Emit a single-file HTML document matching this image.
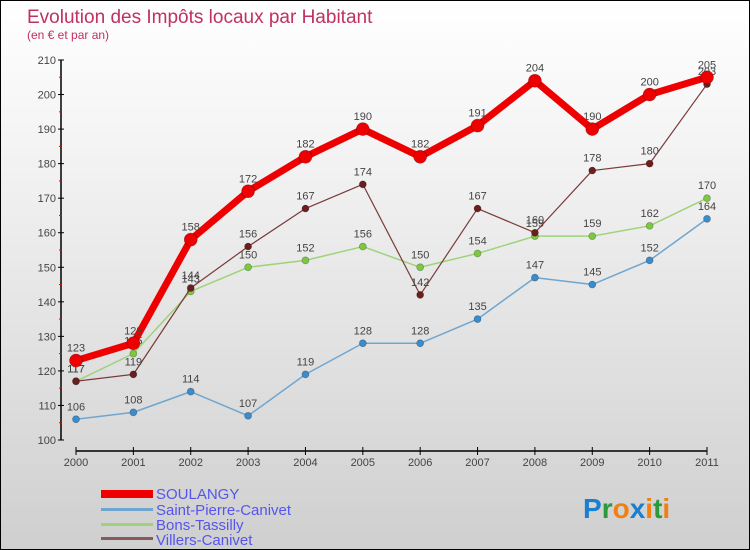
<!DOCTYPE html>
<html><head><meta charset="utf-8"><style>
body{margin:0}
#wrap{position:relative;width:748px;height:548px;border:1px solid #000;background:linear-gradient(#fff,#f2f2f2 30%,#cfcfcf);font-family:"Liberation Sans",sans-serif;overflow:hidden}
text{font-family:"Liberation Sans",sans-serif}
</style></head><body>
<div id="wrap">
<svg id="svg" width="748" height="548">
<text x="26" y="22" font-size="19" fill="#c0315e">Evolution des Impôts locaux par Habitant</text>
<text x="26" y="38" font-size="12" fill="#c0315e">(en € et par an)</text>
<g id="axes"></g><g id="series"></g>
<g>
<rect x="100" y="489" width="52" height="8" fill="#e00"/>
<text x="155" y="498" font-size="15" fill="#55e">SOULANGY</text>
<rect x="100" y="507" width="52" height="3" fill="#6fa6d0"/>
<text x="155" y="514" font-size="15" fill="#55e">Saint-Pierre-Canivet</text>
<rect x="100" y="522" width="52" height="3" fill="#9ed37a"/>
<text x="155" y="529" font-size="15" fill="#55e">Bons-Tassilly</text>
<rect x="100" y="536" width="52" height="3" fill="#8a5a5a"/>
<text x="155" y="544" font-size="15" fill="#55e">Villers-Canivet</text>
</g>
<text x="582" y="517" font-size="28" font-weight="bold"><tspan fill="#1a7fd0">P</tspan><tspan fill="#2a9a3a">r</tspan><tspan fill="#f08010">o</tspan><tspan fill="#1a7fd0">x</tspan><tspan fill="#f08010">i</tspan><tspan fill="#2a9a3a">t</tspan><tspan fill="#f08010">i</tspan></text>
</svg></div>
<script>
const years=[2000,2001,2002,2003,2004,2005,2006,2007,2008,2009,2010,2011];
const yTicks=[100,110,120,130,140,150,160,170,180,190,200,210];
const soulangy=[123,128,158,172,182,190,182,191,204,190,200,205];
const saintPierre=[106,108,114,107,119,128,128,135,147,145,152,164];
const bonsTassilly=[117,125,143,150,152,156,150,154,159,159,162,170];
const villers=[117,119,144,156,167,174,142,167,160,178,180,203];
const NS="http://www.w3.org/2000/svg";
const X=i=>75+i*(631/11);
const Y=v=>439-(v-100)*(380/110);
function mk(t,a,p){const e=document.createElementNS(NS,t);for(const k in a)e.setAttribute(k,a[k]);p.appendChild(e);return e;}
const ax=document.getElementById('axes');
let l=mk('line',{x1:60,y1:Y(210),x2:60,y2:Y(100),stroke:'#000','stroke-width':1.5},ax);


l=mk('line',{x1:X(0),y1:450,x2:X(11),y2:450,stroke:'#000','stroke-width':1.5},ax);


yTicks.forEach((v,i)=>{
 mk('line',{x1:57,y1:Y(v),x2:63,y2:Y(v),stroke:'#000'},ax);
 if(i<yTicks.length-1)mk('line',{x1:58,y1:Y(v+5),x2:61,y2:Y(v+5),stroke:'#e00'},ax);
 const t=mk('text',{x:55,y:Y(v)+4,'font-size':11,fill:'#444','text-anchor':'end'},ax);t.textContent=v;
 
 
});
years.forEach((yr,i)=>{
 mk('line',{x1:X(i),y1:446,x2:X(i),y2:454,stroke:'#000'},ax);
 const t=mk('text',{x:X(i),y:465,'font-size':11,fill:'#444','text-anchor':'middle'},ax);t.textContent=yr;
 
 
});
const sg=document.getElementById('series');
function draw(data,color,dot,w,r,name){
 const g=mk('g',{},sg);
 
 
 mk('polyline',{points:data.map((v,i)=>X(i)+','+Y(v)).join(' '),fill:'none',stroke:color,'stroke-width':w,'stroke-linejoin':'round'},g);
 data.forEach((v,i)=>{
  const c=mk('circle',{cx:X(i),cy:Y(v),r:r,fill:dot,stroke:'rgba(0,0,0,0.3)','stroke-width':0.7},g);
  
  
  const t=mk('text',{x:X(i),y:Y(v)-9,'font-size':11,fill:'#444','text-anchor':'middle'},g);t.textContent=v;
  
  
 });
}
draw(saintPierre,'#6fa6d0','#3a8ccc',1.5,3.5,'saint-pierre');
draw(bonsTassilly,'#9ed37a','#7cc840',1.5,3.5,'bons-tassilly');
draw(villers,'#7a3a3a','#6a1e1e',1.2,3.5,'villers-canivet');
draw(soulangy,'#ee0000','#ee0000',7,6.5,'soulangy');
</script>
</body></html>
